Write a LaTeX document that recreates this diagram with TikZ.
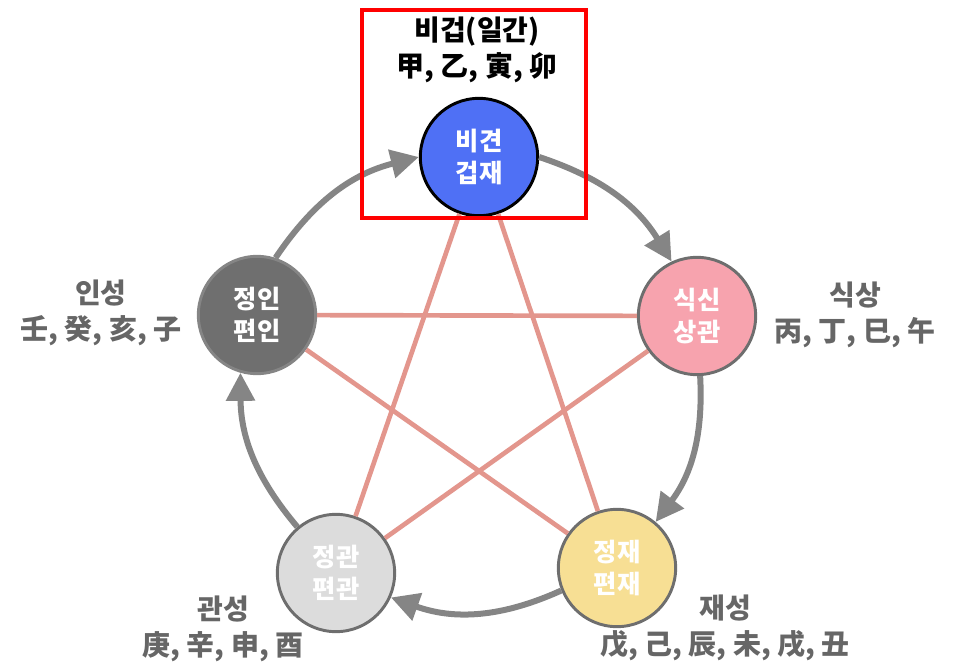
\documentclass[tikz,border=0pt]{standalone}
\usepackage{fontspec}
\setmainfont{Noto Sans CJK KR}
\usetikzlibrary{arrows.meta}
\definecolor{bigeopblue}{HTML}{4F70F5}
\definecolor{inseonggray}{HTML}{6F6F6F}
\definecolor{siksangpink}{HTML}{F7A3AE}
\definecolor{gwanseonggray}{HTML}{DCDCDC}
\definecolor{jaeseongyellow}{HTML}{F7DF94}
\definecolor{ringgray}{HTML}{6E6E6E}
\definecolor{flowgray}{HTML}{858585}
\definecolor{clashred}{HTML}{E3968D}
\definecolor{labelgray}{HTML}{666666}

\begin{document}
\begin{tikzpicture}[x=0.75pt, y=-0.75pt, >={Triangle[length=21pt,width=21pt]},
  ohaeng/.style={circle, minimum size=88pt, inner sep=0pt, line width=2.2pt, draw=ringgray, text=white, align=center, font=\fontsize{19}{24}\selectfont\bfseries},
  flow/.style={->, draw=flowgray, line width=4.5pt},
  clash/.style={draw=clashred, line width=3.5pt},
  group/.style={align=center, text=labelgray, font=\fontsize{21}{27}\selectfont\bfseries}]
\useasboundingbox (0,0) rectangle (954,667);
% five circles
\node[ohaeng, fill=bigeopblue, draw=black] (bigyeon) at (479,157) {비견\\겁재};
\node[ohaeng, fill=siksangpink] (siksin) at (697,316) {식신\\상관};
\node[ohaeng, fill=jaeseongyellow] (jeongjae) at (617,568) {정재\\편재};
\node[ohaeng, fill=gwanseonggray] (jeonggwan) at (336,573) {정관\\편관};
\node[ohaeng, fill=inseonggray, draw=inseonggray!85!white] (jeongin) at (257,315) {정인\\편인};
% star lines
\draw[clash] (bigyeon) -- (jeonggwan);
\draw[clash] (bigyeon) -- (jeongjae);
\draw[clash] (jeongin) -- (siksin);
\draw[clash] (jeongin) -- (jeongjae);
\draw[clash] (siksin) -- (jeonggwan);
% cycle arrows
\draw[flow] (bigyeon.east) to[bend left=20] (siksin.115);
\draw[flow] (siksin.-87) to[bend left=20] (jeongjae.50);
\draw[flow] (jeongjae.202) to[bend left=22] (jeonggwan.336);
\draw[flow] (jeonggwan.130) to[bend left=20] (jeongin.254);
\draw[flow] (jeongin.72) to[bend left=21] (bigyeon.west);
% labels
\node[group, text=black] (bigeop) at (477,50) {비겁(일간)\\甲,~乙,~寅,~卯};
\node[group] (siksang) at (855,315) {식상\\丙,~丁,~巳,~午};
\node[group] (jaeseong) at (725,628) {재성\\戊,~己,~辰,~未,~戌,~丑};
\node[group] (gwanseong) at (223,629) {관성\\庚,~辛,~申,~酉};
\node[group] (inseong) at (101,313) {인성\\壬,~癸,~亥,~子};
\node[draw=red, line width=3pt, minimum width=168pt, minimum height=156pt, inner sep=0pt] (frame) at (474,114) {};
\end{tikzpicture}
\end{document}
